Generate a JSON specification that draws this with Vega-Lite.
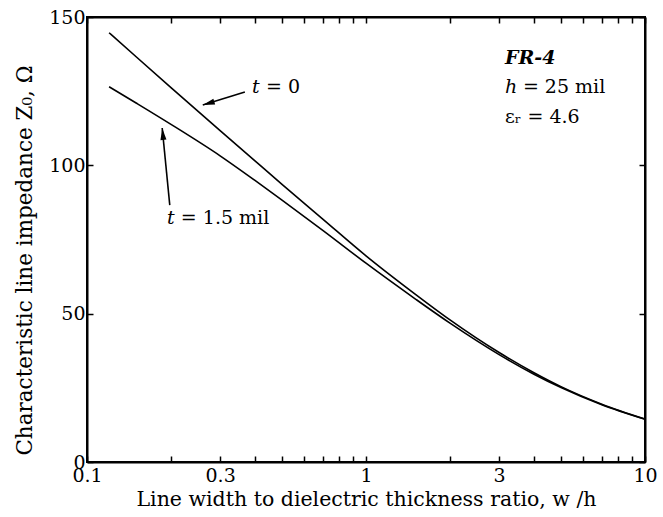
{
  "$schema": "https://vega.github.io/schema/vega-lite/v6.json",
  "width": 558,
  "height": 445,
  "autosize": {"type": "none"},
  "padding": {"left": 87, "top": 17, "right": 18, "bottom": 55},
  "background": "white",
  "config": {
    "view": {"stroke": "black", "strokeWidth": 2},
    "font": "DejaVu Serif",
    "axis": {
      "domainColor": "black", "domainWidth": 2, "tickColor": "black", "tickWidth": 1.5,
      "labelColor": "black", "titleColor": "black", "labelFont": "DejaVu Serif", "titleFont": "DejaVu Serif",
      "labelFontSize": 19, "titleFontSize": 20, "titleFontWeight": "normal", "grid": false
    }
  },
  "datasets": {
    "curves": [
      {"ratio": 0.12, "z0": 144.7, "series": "t = 0"},
      {"ratio": 0.15, "z0": 136.6, "series": "t = 0"},
      {"ratio": 0.2, "z0": 126.2, "series": "t = 0"},
      {"ratio": 0.3, "z0": 111.7, "series": "t = 0"},
      {"ratio": 0.4, "z0": 101.5, "series": "t = 0"},
      {"ratio": 0.5, "z0": 93.6, "series": "t = 0"},
      {"ratio": 0.7, "z0": 81.9, "series": "t = 0"},
      {"ratio": 1, "z0": 69.5, "series": "t = 0"},
      {"ratio": 1.5, "z0": 56.6, "series": "t = 0"},
      {"ratio": 2, "z0": 47.9, "series": "t = 0"},
      {"ratio": 3, "z0": 36.9, "series": "t = 0"},
      {"ratio": 4, "z0": 30.1, "series": "t = 0"},
      {"ratio": 5, "z0": 25.4, "series": "t = 0"},
      {"ratio": 7, "z0": 19.5, "series": "t = 0"},
      {"ratio": 10, "z0": 14.5, "series": "t = 0"},
      {"ratio": 0.12, "z0": 126.5, "series": "t = 1.5 mil"},
      {"ratio": 0.15, "z0": 121.0, "series": "t = 1.5 mil"},
      {"ratio": 0.2, "z0": 113.8, "series": "t = 1.5 mil"},
      {"ratio": 0.3, "z0": 103.2, "series": "t = 1.5 mil"},
      {"ratio": 0.4, "z0": 94.9, "series": "t = 1.5 mil"},
      {"ratio": 0.5, "z0": 88.3, "series": "t = 1.5 mil"},
      {"ratio": 0.7, "z0": 78.1, "series": "t = 1.5 mil"},
      {"ratio": 1, "z0": 67.0, "series": "t = 1.5 mil"},
      {"ratio": 1.5, "z0": 55.0, "series": "t = 1.5 mil"},
      {"ratio": 2, "z0": 46.8, "series": "t = 1.5 mil"},
      {"ratio": 3, "z0": 36.2, "series": "t = 1.5 mil"},
      {"ratio": 4, "z0": 29.6, "series": "t = 1.5 mil"},
      {"ratio": 5, "z0": 25.1, "series": "t = 1.5 mil"},
      {"ratio": 7, "z0": 19.3, "series": "t = 1.5 mil"},
      {"ratio": 10, "z0": 14.4, "series": "t = 1.5 mil"}
    ],
    "arrows": [
      {"label": "t = 0", "x1": 0.368, "y1": 124.7, "x2": 0.26, "y2": 120.3},
      {"label": "t = 1.5 mil", "x1": 0.198, "y1": 86.6, "x2": 0.186, "y2": 112.6}
    ]
  },
  "resolve": {"axis": {"x": "independent", "y": "independent"}},
  "layer": [
    {
      "data": {"name": "curves"},
      "mark": {"type": "line", "color": "black", "strokeWidth": 1.6, "interpolate": "monotone"},
      "encoding": {
        "x": {
          "field": "ratio", "type": "quantitative",
          "scale": {"type": "log", "domain": [0.1, 10]},
          "axis": {
            "orient": "bottom",
            "values": [0.1, 0.2, 0.3, 0.4, 0.5, 0.6, 0.7, 0.8, 0.9, 1, 2, 3, 4, 5, 6, 7, 8, 9, 10],
            "labelExpr": "indexof([0.1, 0.3, 1, 3, 10], datum.value) >= 0 ? format(datum.value, '~g') : ''",
            "tickSize": -6, "labelPadding": 10, "labelFlush": false, "labelOverlap": false,
            "title": "Line width to dielectric thickness ratio, w /h", "titleFontSize": 20.5, "titlePadding": 4
          }
        },
        "y": {
          "field": "z0", "type": "quantitative",
          "scale": {"domain": [0, 150], "nice": false},
          "axis": {
            "orient": "left", "values": [0, 50, 100, 150],
            "tickSize": -6, "labelPadding": 8,
            "title": "Characteristic line impedance  Z₀, Ω", "titleFontSize": 21.5,
            "titleX": -62, "titleY": 243, "titleAngle": 270, "titleAlign": "center", "titleBaseline": "middle"
          }
        },
        "detail": {"field": "series"}
      }
    },
    {
      "data": {"name": "curves"},
      "mark": {"type": "point", "opacity": 0},
      "encoding": {
        "x": {
          "field": "ratio", "type": "quantitative",
          "scale": {"type": "log", "domain": [0.1, 10]},
          "axis": {"orient": "top", "values": [0.1, 0.2, 0.3, 0.4, 0.5, 0.6, 0.7, 0.8, 0.9, 1, 2, 3, 4, 5, 6, 7, 8, 9, 10], "labels": false, "tickSize": -6, "title": null}
        },
        "y": {
          "field": "z0", "type": "quantitative",
          "scale": {"domain": [0, 150], "nice": false},
          "axis": {"orient": "right", "values": [0, 50, 100, 150], "labels": false, "tickSize": -6, "title": null}
        }
      }
    },
    {
      "data": {"name": "arrows"},
      "mark": {"type": "rule", "color": "black", "strokeWidth": 1.6},
      "encoding": {
        "x": {"field": "x1", "type": "quantitative", "axis": null},
        "y": {"field": "y1", "type": "quantitative", "axis": null},
        "x2": {"field": "x2"},
        "y2": {"field": "y2"}
      }
    },
    {
      "data": {"name": "arrows"},
      "transform": [{"filter": "datum.label == 't = 0'"}],
      "mark": {"type": "point", "shape": "M0,0L0.5,2L-0.5,2Z", "filled": true, "color": "black", "opacity": 1, "size": 144, "angle": 253},
      "encoding": {
        "x": {"field": "x2", "type": "quantitative", "axis": null},
        "y": {"field": "y2", "type": "quantitative", "axis": null}
      }
    },
    {
      "data": {"name": "arrows"},
      "transform": [{"filter": "datum.label == 't = 1.5 mil'"}],
      "mark": {"type": "point", "shape": "M0,0L0.5,2L-0.5,2Z", "filled": true, "color": "black", "opacity": 1, "size": 144, "angle": 354},
      "encoding": {
        "x": {"field": "x2", "type": "quantitative", "axis": null},
        "y": {"field": "y2", "type": "quantitative", "axis": null}
      }
    },
    {
      "data": {"values": [
        {"x": 0.390, "y": 126.4, "text": "t"},
        {"x": 0.1935, "y": 82.2, "text": "t"},
        {"x": 3.15, "y": 126.4, "text": "h"}
      ]},
      "mark": {"type": "text", "align": "left", "baseline": "middle", "fontSize": 19, "fontStyle": "italic", "font": "DejaVu Serif", "color": "black"},
      "encoding": {
        "x": {"field": "x", "type": "quantitative", "axis": null},
        "y": {"field": "y", "type": "quantitative", "axis": null},
        "text": {"field": "text"}
      }
    },
    {
      "data": {"values": [
        {"x": 0.438, "y": 126.4, "text": "= 0"},
        {"x": 0.217, "y": 82.2, "text": "= 1.5 mil"},
        {"x": 3.65, "y": 126.4, "text": "= 25 mil"},
        {"x": 3.15, "y": 116.3, "text": "εᵣ = 4.6"}
      ]},
      "mark": {"type": "text", "align": "left", "baseline": "middle", "fontSize": 19, "font": "DejaVu Serif", "color": "black"},
      "encoding": {
        "x": {"field": "x", "type": "quantitative", "axis": null},
        "y": {"field": "y", "type": "quantitative", "axis": null},
        "text": {"field": "text"}
      }
    },
    {
      "data": {"values": [{"x": 3.15, "y": 136.2, "text": "FR-4"}]},
      "mark": {"type": "text", "align": "left", "baseline": "middle", "fontSize": 19, "fontStyle": "italic", "fontWeight": "bold", "font": "DejaVu Serif", "color": "black"},
      "encoding": {
        "x": {"field": "x", "type": "quantitative", "axis": null},
        "y": {"field": "y", "type": "quantitative", "axis": null},
        "text": {"field": "text"}
      }
    }
  ]
}
